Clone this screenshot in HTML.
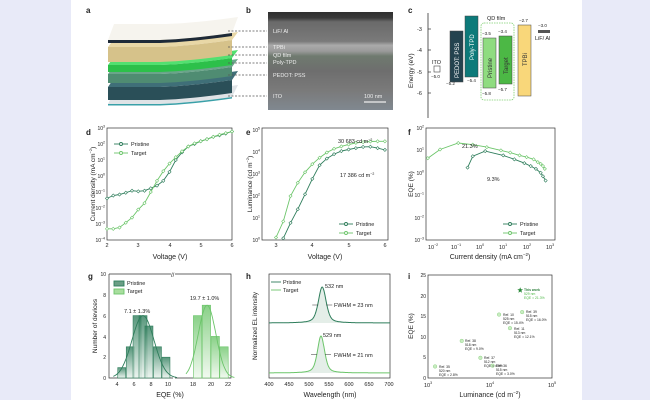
<!DOCTYPE html>
<html><head><meta charset="utf-8"><style>
html,body{margin:0;padding:0;background:#e8eaf8;}
#w{position:absolute;left:71px;top:0;width:511px;height:400px;background:#fff;}
svg{position:absolute;left:0;top:0;}
text{font-family:"Liberation Sans",Arial,sans-serif;fill:#222;}
</style></head><body>
<div id="w"></div>
<svg id="s" width="650" height="400" viewBox="0 0 650 400" xmlns="http://www.w3.org/2000/svg">
<defs>
<linearGradient id="gb" x1="0" y1="0" x2="0" y2="1">
<stop offset="0" stop-color="#2f2f2f"/><stop offset="0.06" stop-color="#3a3a3a"/>
<stop offset="0.1" stop-color="#6a6a6a"/><stop offset="0.3" stop-color="#7a7a7a"/>
<stop offset="0.34" stop-color="#aaaaaa"/><stop offset="0.4" stop-color="#9a9a9a"/>
<stop offset="0.45" stop-color="#6f7a6f"/><stop offset="0.6" stop-color="#6e6e6e"/>
<stop offset="0.8" stop-color="#7a7a7a"/><stop offset="1" stop-color="#808890"/>
</linearGradient>
<linearGradient id="gp" x1="0" y1="0" x2="0" y2="1"><stop offset="0" stop-color="#2e7d5b"/><stop offset="1" stop-color="#e8f2ec"/></linearGradient>
<linearGradient id="gt" x1="0" y1="0" x2="0" y2="1"><stop offset="0" stop-color="#6cc56a"/><stop offset="1" stop-color="#eef8ec"/></linearGradient>
</defs>
<g font-weight="bold" font-size="8">
<text x="86" y="13">a</text><text x="246" y="13">b</text><text x="408" y="13">c</text>
<text x="86" y="135">d</text><text x="246" y="135">e</text><text x="408" y="135">f</text>
<text x="88" y="279">g</text><text x="246" y="279">h</text><text x="408" y="279">i</text>
</g>
<g id="stack"></g>
<rect x="268" y="12" width="125" height="98" fill="url(#gb)"/>
<g stroke="#555" stroke-dasharray="2,1.5" stroke-width="0.8">
<line x1="228" y1="31" x2="267" y2="31"/><line x1="228" y1="47" x2="267" y2="47"/>
<line x1="228" y1="55" x2="267" y2="55"/><line x1="228" y1="63" x2="267" y2="63"/>
<line x1="228" y1="75" x2="267" y2="75"/><line x1="228" y1="96" x2="267" y2="96"/>
</g>
<g font-size="5.5"><text x="273" y="33" style="fill:#eee">LiF/ Al</text><text x="273" y="49" style="fill:#eee">TPBi</text>
<text x="273" y="57" style="fill:#eee">QD film</text><text x="273" y="64" style="fill:#eee">Poly-TPD</text>
<text x="273" y="77" style="fill:#eee">PEDOT: PSS</text><text x="273" y="98" style="fill:#eee">ITO</text>
<text x="364" y="98" style="fill:#eee">100 nm</text></g>
<line x1="364" y1="102" x2="386" y2="102" stroke="#eee" stroke-width="1.2"/>
<line x1="428" y1="13" x2="428" y2="118" stroke="#333" stroke-width="0.8"/>
<g font-size="5.5"><text x="417" y="31">-3</text><text x="417" y="52">-4</text><text x="417" y="74">-5</text><text x="417" y="95">-6</text></g>
<g stroke="#333" stroke-width="0.7"><line x1="428" y1="29" x2="431" y2="29"/><line x1="428" y1="50" x2="431" y2="50"/><line x1="428" y1="72" x2="431" y2="72"/><line x1="428" y1="93" x2="431" y2="93"/></g>
<text font-size="6.5" transform="translate(413,88) rotate(-90)">Energy (eV)</text>
<rect x="434" y="66" width="6" height="6" fill="#fff" stroke="#444" stroke-width="0.6"/>
<text x="432" y="64" font-size="5.5">ITO</text><text x="431" y="78" font-size="4.5">−5.0</text>
<rect x="450" y="31" width="13" height="51" fill="#24434f" stroke="#444" stroke-width="0.5"/>
<text x="446" y="85" font-size="4.5">−5.2</text>
<rect x="465" y="16" width="13" height="61" fill="#0d7a7a" stroke="#444" stroke-width="0.5"/>
<text x="467" y="82" font-size="4.5">−5.4</text>
<rect x="481" y="23" width="33" height="77" fill="none" stroke="#7ccf6e" stroke-dasharray="1.5,1" stroke-width="0.8" rx="3"/>
<text x="487" y="20" font-size="5.5">QD film</text>
<rect x="483" y="38" width="13" height="50" fill="#8fdc80" stroke="#444" stroke-width="0.5"/>
<rect x="499" y="36" width="13" height="48" fill="#4cb845" stroke="#444" stroke-width="0.5"/>
<text x="482" y="35" font-size="4.5">−3.5</text><text x="498" y="33" font-size="4.5">−3.4</text>
<text x="482" y="95" font-size="4.5">−5.8</text><text x="498" y="91" font-size="4.5">−5.7</text>
<rect x="518" y="25" width="13" height="71" fill="#f9d77a" stroke="#444" stroke-width="0.5"/>
<text x="519" y="22" font-size="4.5">−2.7</text>
<rect x="538" y="30" width="12" height="3" fill="#555"/>
<text x="538" y="27" font-size="4.5">−3.0</text><text x="535" y="40" font-size="5.5">LiF/ Al</text>
<g font-size="6">
<text transform="translate(459,78) rotate(-90)" style="fill:#fff">PEDOT: PSS</text>
<text transform="translate(474,60) rotate(-90)" style="fill:#fff">Poly-TPD</text>
<text transform="translate(492,78) rotate(-90)" style="fill:#333">Pristine</text>
<text transform="translate(508,74) rotate(-90)" style="fill:#333">Target</text>
<text transform="translate(527,66) rotate(-90)" style="fill:#333">TPBi</text>
</g>
<g fill="none" stroke="#333" stroke-width="0.7">
<rect x="107" y="128" width="125" height="112"/>
<rect x="262" y="128" width="126" height="112"/>
<rect x="426" y="128" width="129" height="112"/>
<polyline points="109,274 109,378 173,378"/><polyline points="175,378 231,378 231,274 175,274"/><line x1="109" y1="274" x2="171" y2="274"/>
<rect x="269" y="274" width="121" height="104"/>
<rect x="428" y="275" width="124" height="103"/>
</g>
<g id="dyn"></g>
<g font-size="5.5" text-anchor="middle">
<text x="107" y="247">2</text><text x="138" y="247">3</text><text x="170" y="247">4</text><text x="201" y="247">5</text><text x="232" y="247">6</text>
<text x="276" y="247">3</text><text x="312" y="247">4</text><text x="349" y="247">5</text><text x="385" y="247">6</text>
<text x="433" y="249">10<tspan dy="-3" font-size="3.5">−2</tspan></text><text x="456" y="249">10<tspan dy="-3" font-size="3.5">−1</tspan></text><text x="480" y="249">10<tspan dy="-3" font-size="3.5">0</tspan></text><text x="503" y="249">10<tspan dy="-3" font-size="3.5">1</tspan></text><text x="527" y="249">10<tspan dy="-3" font-size="3.5">2</tspan></text><text x="550" y="249">10<tspan dy="-3" font-size="3.5">3</tspan></text>
</g>
<g font-size="7" text-anchor="middle">
<text x="170" y="259">Voltage (V)</text><text x="325" y="259">Voltage (V)</text><text x="490" y="259">Current density (mA cm<tspan dy="-3" font-size="4.5">−2</tspan><tspan dy="3">)</tspan></text>
<text x="170" y="397">EQE (%)</text><text x="330" y="397">Wavelength (nm)</text><text x="490" y="397">Luminance (cd m<tspan dy="-3" font-size="4.5">−2</tspan><tspan dy="3">)</tspan></text>
</g>
<g font-size="6.5" text-anchor="middle">
<text transform="translate(95,184) rotate(-90)">Current density (mA cm<tspan dy="-3" font-size="4">−2</tspan><tspan dy="3">)</tspan></text>
<text transform="translate(252,184) rotate(-90)">Luminance (cd m<tspan dy="-3" font-size="4">−2</tspan><tspan dy="3">)</tspan></text>
<text transform="translate(413,184) rotate(-90)">EQE (%)</text>
<text transform="translate(97,326) rotate(-90)">Number of devices</text>
<text transform="translate(257,326) rotate(-90)">Normalized EL intensity</text>
<text transform="translate(413,326) rotate(-90)">EQE (%)</text>
</g>
<g font-size="5" text-anchor="end">
<text x="105" y="130">10<tspan dy="-2.5" font-size="3.5">3</tspan></text><text x="105" y="146">10<tspan dy="-2.5" font-size="3.5">2</tspan></text><text x="105" y="162">10<tspan dy="-2.5" font-size="3.5">1</tspan></text><text x="105" y="178">10<tspan dy="-2.5" font-size="3.5">0</tspan></text><text x="105" y="194">10<tspan dy="-2.5" font-size="3.5">−1</tspan></text><text x="105" y="210">10<tspan dy="-2.5" font-size="3.5">−2</tspan></text><text x="105" y="226">10<tspan dy="-2.5" font-size="3.5">−3</tspan></text><text x="105" y="242">10<tspan dy="-2.5" font-size="3.5">−4</tspan></text>
<text x="260" y="132">10<tspan dy="-2.5" font-size="3.5">5</tspan></text><text x="260" y="154">10<tspan dy="-2.5" font-size="3.5">4</tspan></text><text x="260" y="176">10<tspan dy="-2.5" font-size="3.5">3</tspan></text><text x="260" y="198">10<tspan dy="-2.5" font-size="3.5">2</tspan></text><text x="260" y="220">10<tspan dy="-2.5" font-size="3.5">1</tspan></text><text x="260" y="242">10<tspan dy="-2.5" font-size="3.5">0</tspan></text>
<text x="424" y="130">10<tspan dy="-2.5" font-size="3.5">2</tspan></text><text x="424" y="152">10<tspan dy="-2.5" font-size="3.5">1</tspan></text><text x="424" y="175">10<tspan dy="-2.5" font-size="3.5">0</tspan></text><text x="424" y="197">10<tspan dy="-2.5" font-size="3.5">−1</tspan></text><text x="424" y="220">10<tspan dy="-2.5" font-size="3.5">−2</tspan></text><text x="424" y="242">10<tspan dy="-2.5" font-size="3.5">−3</tspan></text>
<text x="106" y="276">10</text><text x="106" y="297">8</text><text x="106" y="318">6</text><text x="106" y="339">4</text><text x="106" y="359">2</text><text x="106" y="380">0</text>
<text x="426" y="277">25</text><text x="426" y="298">20</text><text x="426" y="318">15</text><text x="426" y="339">10</text><text x="426" y="359">5</text><text x="426" y="380">0</text>
</g>
<g font-size="5.5" text-anchor="middle">
<text x="117" y="386">4</text><text x="134" y="386">6</text><text x="151" y="386">8</text><text x="168" y="386">10</text><text x="193" y="386">18</text><text x="211" y="386">20</text><text x="228" y="386">22</text>
<text x="269" y="386">400</text><text x="289" y="386">450</text><text x="309" y="386">500</text><text x="329" y="386">550</text><text x="349" y="386">600</text><text x="369" y="386">650</text><text x="389" y="386">700</text>
<text x="428" y="387">10<tspan dy="-3" font-size="3.5">3</tspan></text><text x="490" y="387">10<tspan dy="-3" font-size="3.5">4</tspan></text><text x="552" y="387">10<tspan dy="-3" font-size="3.5">5</tspan></text>
</g>
<g font-size="5.5">
<text x="338" y="143">30 683 cd m<tspan dy="-2" font-size="3.5">−2</tspan></text>
<text x="340" y="177">17 386 cd m<tspan dy="-2" font-size="3.5">−2</tspan></text>
<text x="462" y="148">21.3%</text><text x="487" y="181">9.3%</text>
<text x="124" y="313">7.1 ± 1.3%</text><text x="190" y="300">19.7 ± 1.0%</text>
<text x="325" y="288">532 nm</text><text x="323" y="337">529 nm</text>
<text x="334" y="307">FWHM = 23 nm</text><text x="334" y="357">FWHM = 21 nm</text>
</g>
<g font-size="5.5">
<text x="131" y="146">Pristine</text><text x="131" y="155">Target</text>
<text x="356" y="226">Pristine</text><text x="356" y="235">Target</text>
<text x="520" y="226">Pristine</text><text x="520" y="235">Target</text>
<text x="283" y="284">Pristine</text><text x="283" y="292">Target</text>
<text x="127" y="285">Pristine</text><text x="127" y="293">Target</text>
</g>
<g stroke-width="0.9" fill="none">
<line x1="114" y1="144" x2="128" y2="144" stroke="#2e7d5b"/><circle cx="121" cy="144" r="1.5" stroke="#2e7d5b" fill="#fff"/>
<line x1="114" y1="153" x2="128" y2="153" stroke="#6cc56a"/><circle cx="121" cy="153" r="1.5" stroke="#6cc56a" fill="#fff"/>
<line x1="339" y1="224" x2="353" y2="224" stroke="#2e7d5b"/><circle cx="346" cy="224" r="1.5" stroke="#2e7d5b" fill="#fff"/>
<line x1="339" y1="233" x2="353" y2="233" stroke="#6cc56a"/><circle cx="346" cy="233" r="1.5" stroke="#6cc56a" fill="#fff"/>
<line x1="503" y1="224" x2="517" y2="224" stroke="#2e7d5b"/><circle cx="510" cy="224" r="1.5" stroke="#2e7d5b" fill="#fff"/>
<line x1="503" y1="233" x2="517" y2="233" stroke="#6cc56a"/><circle cx="510" cy="233" r="1.5" stroke="#6cc56a" fill="#fff"/>
<line x1="271" y1="282" x2="281" y2="282" stroke="#2e7d5b"/><line x1="271" y1="290" x2="281" y2="290" stroke="#6cc56a"/>
<rect x="114" y="281" width="10" height="5" fill="#6a9e85" stroke="#2e7d5b"/><rect x="114" y="289" width="10" height="5" fill="#a8de9e" stroke="#6cc56a"/>
</g>
<g font-size="3.4">
<text x="524" y="291" font-weight="bold" style="fill:#2a7d3a">This work</text><text x="524" y="295" style="fill:#4cb845">529 nm</text><text x="524" y="299" style="fill:#4cb845">EQE = 21.3%</text>
<text x="526" y="313">Ref. 39</text><text x="526" y="317">515 nm</text><text x="526" y="321">EQE = 16.0%</text>
<text x="503" y="316">Ref. 10</text><text x="503" y="320">525 nm</text><text x="503" y="324">EQE = 15.4%</text>
<text x="514" y="330">Ref. 11</text><text x="514" y="334">513 nm</text><text x="514" y="338">EQE = 12.1%</text>
<text x="465" y="342">Ref. 38</text><text x="465" y="346">518 nm</text><text x="465" y="350">EQE = 9.0%</text>
<text x="484" y="359">Ref. 37</text><text x="484" y="363">512 nm</text><text x="484" y="367">EQE = 4.9%</text>
<text x="496" y="367">Ref. 36</text><text x="496" y="371">515 nm</text><text x="496" y="375">EQE = 3.0%</text>
<text x="439" y="368">Ref. 35</text><text x="439" y="372">520 nm</text><text x="439" y="376">EQE = 2.8%</text>
</g>
</svg>
<script>
var NS="http://www.w3.org/2000/svg",D=document.getElementById("dyn"),S=document.getElementById("stack");
function el(t,a,p){var e=document.createElementNS(NS,t);for(var k in a)e.setAttribute(k,a[k]);(p||D).appendChild(e);return e;}
var P="#2e7d5b",T="#6cc56a",L=Math.log10;
function series(pts,fx,fy,c,mk){var s=pts.map(function(p){return fx(p[0]).toFixed(1)+","+fy(p[1]).toFixed(1)}).join(" ");
el("polyline",{points:s,fill:"none",stroke:c,"stroke-width":0.9});
if(mk)pts.forEach(function(p){var x=fx(p[0]),y=fy(p[1]);el("path",{d:"M"+x+","+(y-1.6)+"L"+(x+1.6)+","+y+"L"+x+","+(y+1.6)+"L"+(x-1.6)+","+y+"Z",fill:"#fff",stroke:c,"stroke-width":0.6});});}
var dx=function(v){return 107+(v-2)/4*125},dy=function(j){return 240-(L(j)+4)*16};
series([[2,.04],[2.2,.06],[2.4,.07],[2.6,.09],[2.8,.12],[3,.11],[3.2,.12],[3.4,.17],[3.6,.25],[3.8,.5],[4,1.8],[4.2,10],[4.4,30],[4.6,70],[4.8,100],[5,150],[5.2,200],[5.4,280],[5.6,350],[5.8,450],[6,600]],dx,dy,P,1);
series([[2,5e-4],[2.2,5e-4],[2.4,6e-4],[2.6,1.2e-3],[2.8,2.5e-3],[3,8e-3],[3.2,.02],[3.4,.1],[3.6,.5],[3.8,2],[4,6],[4.2,15],[4.4,35],[4.6,70],[4.8,110],[5,150],[5.2,200],[5.4,280],[5.6,380],[5.8,480],[6,600]],dx,dy,T,1);
var ex=function(v){return 276+(v-3)*36.3},ey=function(l){return 240-L(l)*22};
series([[3.2,1.2],[3.4,6],[3.6,25],[3.8,120],[4,600],[4.2,2500],[4.4,5000],[4.6,8000],[4.8,11000],[5,13000],[5.2,15000],[5.4,17000],[5.6,17386],[5.8,15000],[6,12500]],ex,ey,P,1);
series([[3,1.3],[3.2,7],[3.4,100],[3.6,400],[3.8,1200],[4,2800],[4.2,5500],[4.4,9500],[4.6,14000],[4.8,18000],[5,22000],[5.2,26000],[5.4,28000],[5.6,30000],[5.8,30683],[6,30683]],ex,ey,T,1);
var fx=function(j){return 433+(L(j)+2)*23.4},fy=function(e){return 240-(L(e)+3)*22.4};
series([[.006,4.5],[.02,11],[.12,21.3],[.5,18],[2,14],[8,10],[20,8],[50,6],[100,5],[200,4],[300,3],[400,2.5],[500,2],[600,1.5]],fx,fy,T,1);
series([[.3,1.7],[.5,5.5],[1.7,9.3],[10,6],[30,4],[80,2.7],[150,2],[250,1.5],[400,1],[500,.7],[650,.45]],fx,fy,P,1);
var gxl=function(v){return 109+(v-3)*8.5},gxr=function(v){return 193+(v-18)*8.8},gy=function(n){return 378-n*10.4};
[[4.5,1],[5.5,3],[6.3,6],[7,6],[7.7,5],[8.7,3],[9.7,2]].forEach(function(b){el("rect",{x:gxl(b[0])-4,y:gy(b[1]),width:8,height:b[1]*10.4,fill:"url(#gp)",stroke:P,"stroke-width":0.6,"fill-opacity":0.8});});
[[18.5,6],[19.5,7],[20.5,4],[21.5,3]].forEach(function(b){el("rect",{x:gxr(b[0])-4,y:gy(b[1]),width:8.4,height:b[1]*10.4,fill:"url(#gt)",stroke:T,"stroke-width":0.6,"fill-opacity":0.8});});
var s1=[],s2=[];for(var v=3.5;v<=11;v+=0.1)s1.push([v,6*Math.exp(-Math.pow(v-7,2)/(2*1.3*1.3))]);
for(var v=17.2;v<=22.8;v+=0.1)s2.push([v,7*Math.exp(-Math.pow(v-19.6,2)/(2*1.0*1.0))]);
series(s1,gxl,gy,P,0);series(s2,gxr,gy,T,0);
el("text",{x:171,y:277,"font-size":6}).textContent="//";
var hx=function(w){return 269+(w-400)/300*121};
function peak(c,w0,fw,base,ph,col){var pts=[];for(var w=400;w<=700;w+=1){var g=1/(1+Math.pow((w-w0)/(fw/2),2));g=0.5*g+0.5*Math.exp(-Math.pow(w-w0,2)/(2*Math.pow(fw/2.355,2)));pts.push([w,g]);}
var s=pts.map(function(p){return hx(p[0]).toFixed(1)+","+(base-p[1]*ph).toFixed(1)}).join(" ");
el("polygon",{points:s+" "+hx(700)+","+base+" "+hx(400)+","+base,fill:"#e4eee8",stroke:"none"});
el("polyline",{points:s,fill:"none",stroke:col,"stroke-width":1});
el("line",{x1:hx(w0)-10,y1:base-ph/2,x2:hx(w0)-4,y2:base-ph/2,stroke:"#333","stroke-width":0.5});
el("line",{x1:hx(w0)+4,y1:base-ph/2,x2:hx(w0)+10,y2:base-ph/2,stroke:"#333","stroke-width":0.5});}
peak(0,532,23,323,36,P);peak(0,529,21,373,37,T);
var ix=function(l){return 428+(L(l)-3)*62},iy=function(e){return 378-e*4.12};
[[33000,16],[14000,15.4],[21000,12.1],[3500,9],[7000,4.9],[11000,3],[1300,2.8]].forEach(function(p){el("circle",{cx:ix(p[0]),cy:iy(p[1]),r:1.8,fill:"#c9ecc2",stroke:"#8fd484","stroke-width":0.5});});
var cx=ix(30683),cy=iy(21.3),st="";for(var k=0;k<10;k++){var r=k%2?1.3:3,a=Math.PI/5*k-Math.PI/2;st+=(cx+r*Math.cos(a)).toFixed(1)+","+(cy+r*Math.sin(a)).toFixed(1)+" ";}
el("polygon",{points:st,fill:"#2a8a3a"});
// panel a: 3D curved layers
function curve(y,dx,dy){return [[108+dx,y+dy],[160+dx,y+dy],[190+dx,y+dy-1],[232+dx,y+dy-7]];}
function cstr(c,move){return (move?"M":"L")+c[0][0]+","+c[0][1]+" L"+c[1][0]+","+c[1][1]+" Q"+c[2][0]+","+c[2][1]+" "+c[3][0]+","+c[3][1];}
function rstr(c){return "L"+c[3][0]+","+c[3][1]+" Q"+c[2][0]+","+c[2][1]+" "+c[1][0]+","+c[1][1]+" L"+c[0][0]+","+c[0][1];}
function layer(y,h,dep,topc,frontc){
var f=curve(y,0,0),b=curve(y,6,-dep),fb=curve(y+h,0,0);
el("path",{d:cstr(f,1)+" "+rstr(b)+"Z",fill:topc},S);
el("path",{d:cstr(f,1)+" "+rstr(fb)+"Z",fill:frontc},S);}
layer(104,1.5,12,"#dfe3e6","#3aa0a8");
layer(87,13,9,"#3f6f78","#2a4f58");
layer(74,9,8,"#6aa58a","#4f8c72");
layer(65,7,8,"#52e070","#2cc04a");
layer(47,15,8,"#e8d7a6","#d6c28a");
layer(40,3,16,"#f6f4ee","#1e2a38");
</script>
</body></html>
